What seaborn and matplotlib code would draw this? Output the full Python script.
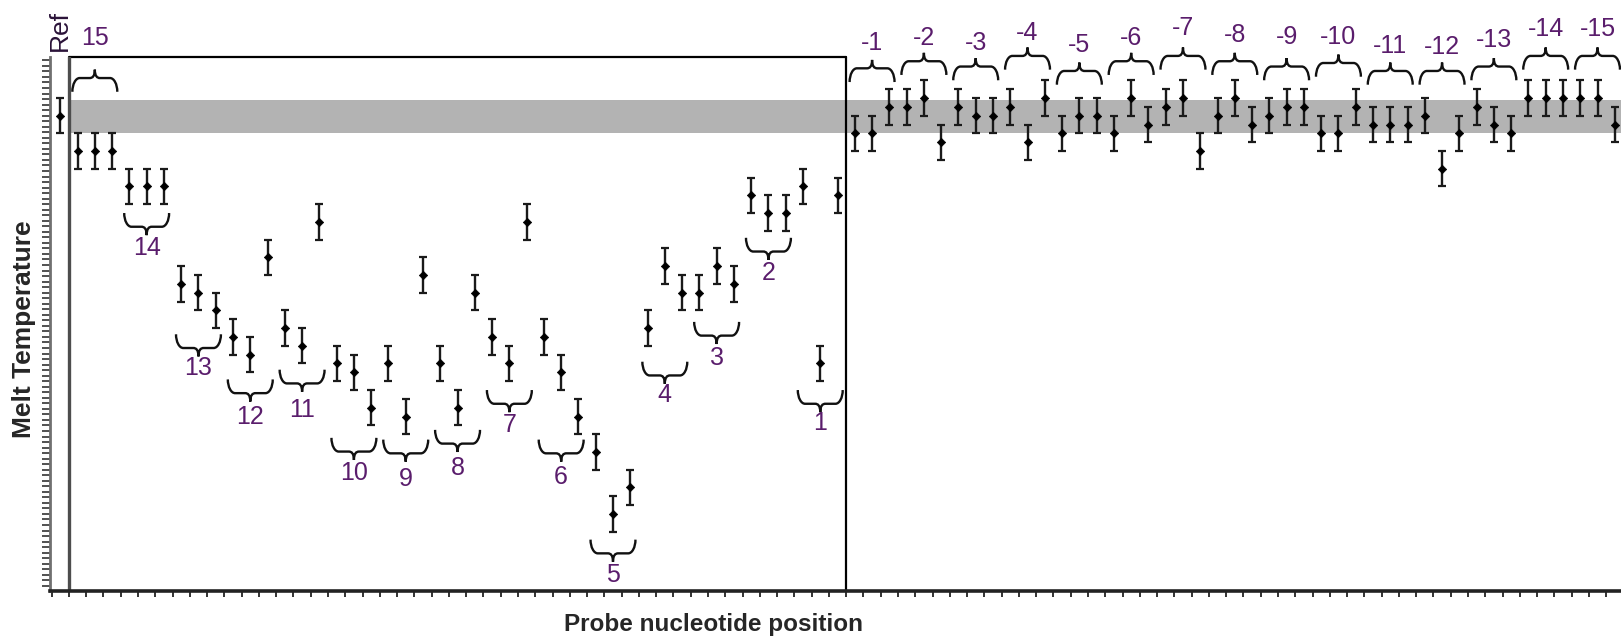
import numpy as np
import pandas as pd
import matplotlib
matplotlib.use("Agg")
import matplotlib.pyplot as plt
import seaborn as sns
from matplotlib.path import Path
from matplotlib.patches import PathPatch, Rectangle
from matplotlib.ticker import MultipleLocator, FixedLocator, NullFormatter

sns.set_style("white")
plt.rcParams["font.family"] = ["Liberation Sans", "DejaVu Sans"]

# ---- data -------------------------------------------------------------
ref_tm = 62.0          # reference (perfect match) melt temperature
tm_err = 0.2           # error bar half-width
band_low, band_high = 61.80, 62.18   # reference tolerance band

# mismatch positions 15 ... 1 (three probes per position)
pos_labels = ["15", "14", "13", "12", "11", "10", "9", "8", "7", "6",
              "5", "4", "3", "2", "1"]
tm_pos = [61.6, 61.6, 61.6,
          61.2, 61.2, 61.2,
          60.1, 60.0, 59.8,
          59.5, 59.3, 60.4,
          59.6, 59.4, 60.8,
          59.2, 59.1, 58.7,
          59.2, 58.6, 60.2,
          59.2, 58.7, 60.0,
          59.5, 59.2, 60.8,
          59.5, 59.1, 58.6,
          58.2, 57.5, 57.8,
          59.6, 60.3, 60.0,
          60.0, 60.3, 60.1,
          61.1, 60.9, 60.9,
          61.2, 59.2, 61.1]

# mismatch positions -1 ... -15
neg_labels = ["-1", "-2", "-3", "-4", "-5", "-6", "-7", "-8", "-9", "-10",
              "-11", "-12", "-13", "-14", "-15"]
tm_neg = [61.8, 61.8, 62.1,
          62.1, 62.2, 61.7,
          62.1, 62.0, 62.0,
          62.1, 61.7, 62.2,
          61.8, 62.0, 62.0,
          61.8, 62.2, 61.9,
          62.1, 62.2, 61.6,
          62.0, 62.2, 61.9,
          62.0, 62.1, 62.1,
          61.8, 61.8, 62.1,
          61.9, 61.9, 61.9,
          62.0, 61.4, 61.8,
          62.1, 61.9, 61.8,
          62.2, 62.2, 62.2,
          62.2, 62.2, 61.9]

# brace annotations: side, y of the brace ends, y of the label centre
brace_side = ["up"] + ["down"] * 14 + ["up"] * 15
brace_edge = [62.27,
              60.90, 59.53, 59.02, 59.13, 58.36, 58.34, 58.45, 58.90,
              58.34, 57.21, 59.22, 59.67, 60.62, 58.90,
              62.38, 62.46, 62.40, 62.52, 62.35, 62.46, 62.52, 62.46,
              62.40, 62.44, 62.35, 62.35, 62.40, 62.52, 62.52]
brace_text_y = [62.88,
                60.50, 59.15, 58.60, 58.68, 57.96, 57.90, 58.02, 58.51,
                57.92, 56.81, 58.84, 59.26, 60.22, 58.53,
                62.82, 62.88, 62.82, 62.93, 62.80, 62.88, 62.99, 62.91,
                62.89, 62.89, 62.79, 62.78, 62.86, 62.98, 62.98]

# ---- table ------------------------------------------------------------
group_labels = pos_labels + neg_labels
tm_all = [ref_tm] + tm_pos + tm_neg
df = pd.DataFrame({
    "position": np.arange(len(tm_all)),
    "tm": tm_all,
    "group": ["Ref"] + [g for g in group_labels for _ in range(3)],
})

# ---- figure -----------------------------------------------------------
fig = plt.figure(figsize=(16.21, 6.36), dpi=100)
ax = fig.add_axes([0.0308, 0.0708, 0.9692, 0.8396])
ymin, ymax = 56.63, 62.663
ax.set_xlim(-0.6, 90.36)
ax.set_ylim(ymin, ymax)

# reference band
ax.add_patch(Rectangle((0.5, band_low), 91, band_high - band_low,
                       facecolor="#b3b3b3", edgecolor="none", zorder=1))

# box around the positive positions
box_kw = dict(color="black", lw=1.6, zorder=2, clip_on=False)
ax.plot([0.5, 45.5], [ymax, ymax], **box_kw)
ax.plot([45.5, 45.5], [ymin, ymax], **box_kw)
ax.plot([0.5, 0.5], [ymin, ymax], color="#4d4d4d", lw=2.4, zorder=2)

# error bars and points
ax.errorbar(df["position"], df["tm"], yerr=tm_err, fmt="none",
            ecolor="#1a1a1a", elinewidth=1.7, capsize=3.2, capthick=1.6,
            zorder=3)
sns.scatterplot(data=df, x="position", y="tm", marker="D", s=18,
                color="black", edgecolor="black", linewidth=0.5,
                legend=False, ax=ax, zorder=4)

# curly braces
K = 0.552


def draw_brace(x0, x1, y_edge, side):
    d = 1 if side == "up" else -1
    h1, h2 = 0.155 * d, 0.095 * d
    r_end, r_tip = 0.42, 0.3
    xc = 0.5 * (x0 + x1)
    yl = y_edge + h1
    yt = yl + h2
    verts = [(x0, y_edge),
             (x0, y_edge + K * h1), (x0 + r_end * (1 - K), yl), (x0 + r_end, yl),
             (xc - r_tip, yl),
             (xc - r_tip * (1 - K), yl), (xc, yl + K * h2 * 0.4), (xc, yt),
             (xc, yl + K * h2 * 0.4), (xc + r_tip * (1 - K), yl), (xc + r_tip, yl),
             (x1 - r_end, yl),
             (x1 - r_end * (1 - K), yl), (x1, y_edge + K * h1), (x1, y_edge)]
    codes = [Path.MOVETO,
             Path.CURVE4, Path.CURVE4, Path.CURVE4,
             Path.LINETO,
             Path.CURVE4, Path.CURVE4, Path.CURVE4,
             Path.CURVE4, Path.CURVE4, Path.CURVE4,
             Path.LINETO,
             Path.CURVE4, Path.CURVE4, Path.CURVE4]
    ax.add_patch(PathPatch(Path(verts, codes), facecolor="none",
                           edgecolor="#111111", lw=1.7, zorder=3,
                           clip_on=False))


label_color = "#5a1d6c"
for i, lab in enumerate(group_labels):
    first, last = 1 + 3 * i, 3 + 3 * i
    draw_brace(first - 0.3, last + 0.3, brace_edge[i], brace_side[i])
    ax.text(first + 1, brace_text_y[i], lab, ha="center", va="center",
            fontsize=18, color=label_color, clip_on=False)

ax.text(0, 62.957, "Ref", rotation=90, ha="center", va="center",
        fontsize=19, color="#2a1238", clip_on=False)

# axes styling
sns.despine(ax=ax, top=True, right=True)
ax.spines["left"].set_color("#707070")
ax.spines["left"].set_linewidth(2.0)
ax.spines["bottom"].set_color("#222222")
ax.spines["bottom"].set_linewidth(2.6)
ax.xaxis.set_major_locator(FixedLocator(np.arange(-0.5, 91, 1)))
ax.xaxis.set_major_formatter(NullFormatter())
ax.yaxis.set_major_locator(MultipleLocator(0.0625))
ax.yaxis.set_major_formatter(NullFormatter())
ax.tick_params(axis="x", bottom=True, direction="out", length=4, width=1.3,
               color="#222222")
ax.tick_params(axis="y", left=True, direction="out", length=6, width=1.2,
               color="#333333")
ax.set_xlabel("")
ax.set_ylabel("")

fig.text(713 / 1621, 1 - 624 / 636, "Probe nucleotide position",
         ha="center", va="center", fontsize=17.5, fontweight="bold")
fig.text(24 / 1621, 1 - 329 / 636, "Melt Temperature", rotation=90,
         ha="center", va="center", fontsize=19, fontweight="bold")

fig.savefig("out.png", dpi=100)
